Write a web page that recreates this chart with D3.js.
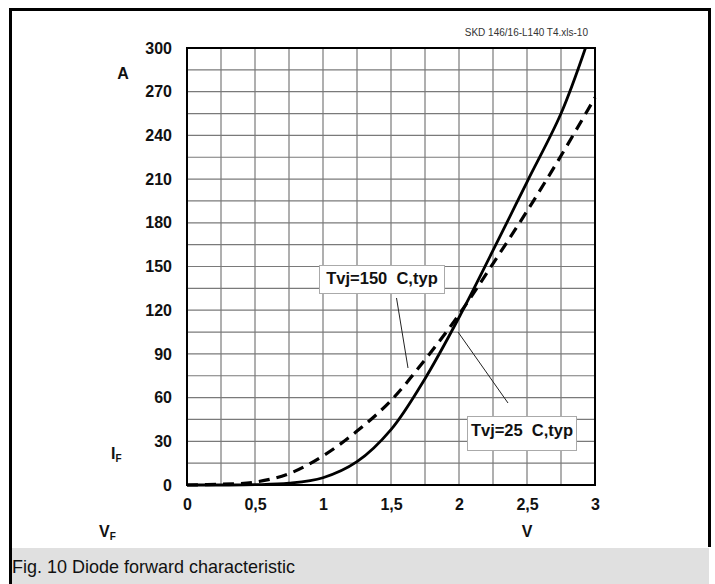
<!DOCTYPE html>
<html><head><meta charset="utf-8">
<script src="https://cdn.jsdelivr.net/npm/d3@7"></script>
<style>
html,body{margin:0;padding:0;background:#fff;}
svg{display:block;}
text{font-family:"Liberation Sans",Arial,sans-serif;}
</style></head>
<body>
<svg id="chart" width="715" height="584"></svg>
<script>
// ---- data ----
const vSolid = [0, 0.25, 0.5, 0.75, 1.0, 1.25, 1.5, 1.75, 2.0, 2.25, 2.5, 2.75, 2.93];
const iSolid = [0, 0, 0.2, 1.2, 5, 16, 38, 73, 115, 161, 208, 255, 300];
const vDash = [0, 0.25, 0.5, 0.75, 1.0, 1.25, 1.5, 1.75, 2.0, 2.25, 2.5, 2.75, 3.0];
const iDash = [0, 0.5, 2, 7.8, 20, 37, 58, 86, 117, 152, 188, 226, 266];
const xTicks = [0, 0.5, 1, 1.5, 2, 2.5, 3];
const xTickLabels = ["0", "0,5", "1", "1,5", "2", "2,5", "3"];
const yTicks = [0, 30, 60, 90, 120, 150, 180, 210, 240, 270, 300];
const label150 = "Tvj=150  C,typ";
const label25 = "Tvj=25  C,typ";
const sourceNote = "SKD 146/16-L140 T4.xls-10";
const caption = "Fig. 10 Diode forward characteristic";

const svg = d3.select("#chart");
const x = d3.scaleLinear().domain([0, 3]).range([187, 595]);
const y = d3.scaleLinear().domain([0, 300]).range([485, 48]);

// outer frame
svg.append("rect").attr("x", 0).attr("y", 0).attr("width", 715).attr("height", 584).attr("fill", "#fff");
svg.append("rect").attr("x", 12).attr("y", 548).attr("width", 697).attr("height", 36).attr("fill", "#e0e0e0");
svg.append("path").attr("d", "M10.5,584 V9.5 H709.5 V547").attr("fill", "none").attr("stroke", "#000").attr("stroke-width", 3);

// grid
const gx = d3.range(0, 3.0001, 0.25);
const gy = d3.range(0, 300.001, 15);
svg.append("g").selectAll("line").data(gx).join("line")
  .attr("x1", d => x(d)).attr("x2", d => x(d)).attr("y1", y(0)).attr("y2", y(300))
  .attr("stroke", "#7a7a7a").attr("stroke-width", 1.2);
svg.append("g").selectAll("line").data(gy).join("line")
  .attr("x1", x(0)).attr("x2", x(3)).attr("y1", d => y(d)).attr("y2", d => y(d))
  .attr("stroke", "#7a7a7a").attr("stroke-width", 1.2);
svg.append("rect").attr("x", x(0)).attr("y", y(300)).attr("width", x(3) - x(0)).attr("height", y(0) - y(300))
  .attr("fill", "none").attr("stroke", "#000").attr("stroke-width", 2);

// axes (labels only)
const yAxis = d3.axisLeft(y).tickValues(yTicks).tickSize(0).tickPadding(15);
const ya = svg.append("g").attr("transform", `translate(${x(0)},0)`).call(yAxis);
ya.select(".domain").remove();
ya.selectAll("text").attr("font-size", 16).attr("font-weight", "bold").attr("fill", "#111")
  .attr("font-family", "'Liberation Sans',Arial,sans-serif");
const xAxis = d3.axisBottom(x).tickValues(xTicks).tickFormat((d, i) => xTickLabels[i]).tickSize(0).tickPadding(14);
const xa = svg.append("g").attr("transform", `translate(0,${y(0)})`).call(xAxis);
xa.select(".domain").remove();
xa.selectAll("text").attr("font-size", 16).attr("font-weight", "bold").attr("fill", "#111")
  .attr("font-family", "'Liberation Sans',Arial,sans-serif");

// axis unit labels
const bold = (sel) => sel.attr("font-weight", "bold").attr("fill", "#111");
bold(svg.append("text").attr("x", 123).attr("y", 79).attr("text-anchor", "middle").attr("font-size", 16).text("A"));
const iF = bold(svg.append("text").attr("x", 111).attr("y", 459).attr("font-size", 16));
iF.append("tspan").text("I");
iF.append("tspan").attr("font-size", 10).attr("dy", 3).text("F");
const vF = bold(svg.append("text").attr("x", 99).attr("y", 537).attr("font-size", 16));
vF.append("tspan").text("V");
vF.append("tspan").attr("font-size", 10).attr("dy", 3).text("F");
bold(svg.append("text").attr("x", 527).attr("y", 537).attr("text-anchor", "middle").attr("font-size", 16).text("V"));

// source note
svg.append("text").attr("x", 588).attr("y", 36).attr("text-anchor", "end").attr("font-size", 10)
  .attr("fill", "#333").text(sourceNote);

// curves
const line = d3.line().x(d => x(d[0])).y(d => y(d[1])).curve(d3.curveCatmullRom.alpha(0.5));
svg.append("path").datum(vDash.map((v, i) => [v, iDash[i]])).attr("d", line)
  .attr("fill", "none").attr("stroke", "#000").attr("stroke-width", 3.2).attr("stroke-dasharray", "11,7");
svg.append("path").datum(vSolid.map((v, i) => [v, iSolid[i]])).attr("d", line)
  .attr("fill", "none").attr("stroke", "#000").attr("stroke-width", 2.8);

// annotations
function annot(text, bx, by, bw, bh, base, lx1, ly1, lx2, ly2) {
  svg.append("line").attr("x1", lx1).attr("y1", ly1).attr("x2", lx2).attr("y2", ly2)
    .attr("stroke", "#222").attr("stroke-width", 1);
  svg.append("rect").attr("x", bx).attr("y", by).attr("width", bw).attr("height", bh)
    .attr("fill", "#fff").attr("stroke", "#aaa").attr("stroke-width", 1);
  svg.append("text").attr("x", bx + bw / 2).attr("y", by + base).attr("text-anchor", "middle")
    .attr("font-size", 16.5).attr("font-weight", "bold").attr("fill", "#111")
    .attr("xml:space", "preserve").style("white-space", "pre").text(text);
}
annot(label150, 319.5, 265.5, 125, 28, 18.5, 396.5, 298, 408, 368);
annot(label25, 467.5, 416.5, 109, 34, 19.5, 458, 332, 508, 403);

// caption
svg.append("text").attr("x", 12).attr("y", 573).attr("font-size", 18.5).attr("fill", "#111")
  .attr("textLength", 283).attr("lengthAdjust", "spacingAndGlyphs")
  .attr("font-family", "'Liberation Sans Narrow','Liberation Sans',Arial,sans-serif").text(caption);
</script>
</body></html>
